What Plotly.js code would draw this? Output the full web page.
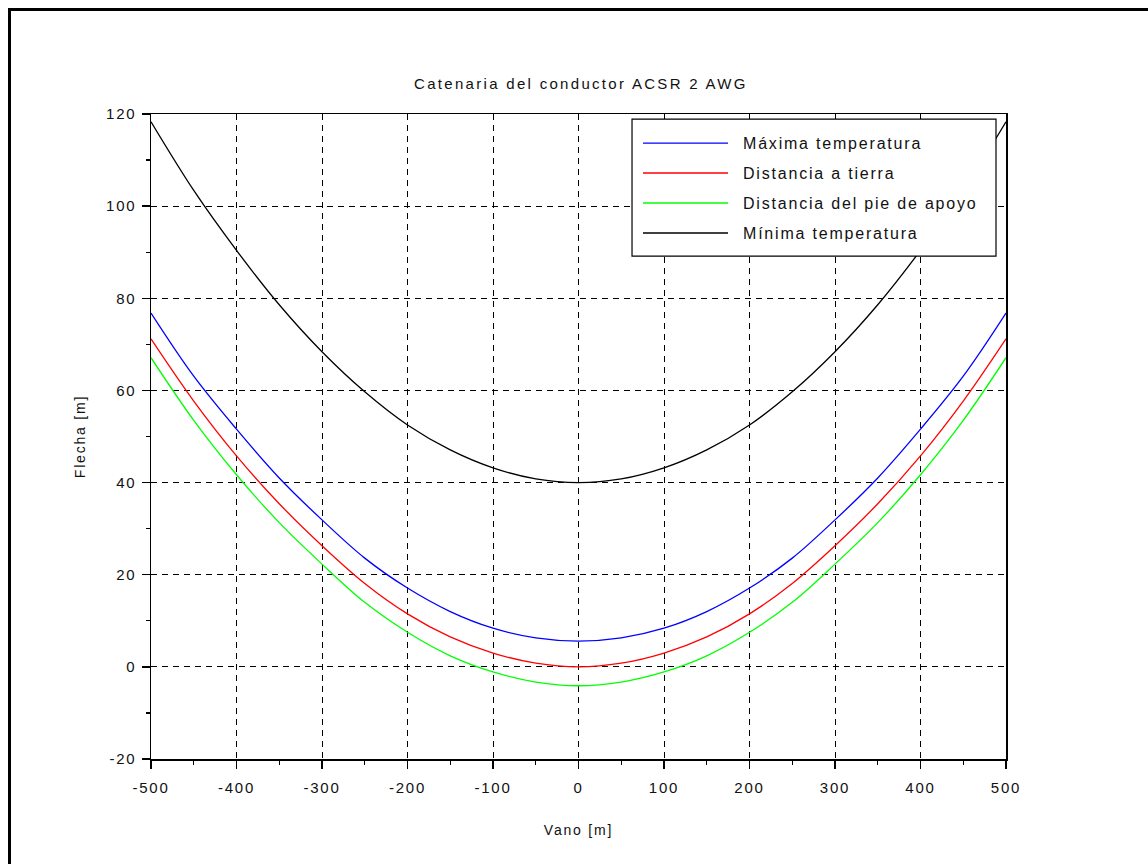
<!DOCTYPE html>
<html>
<head>
<meta charset="utf-8">
<script src="https://cdn.plot.ly/plotly-3.0.1.min.js"></script>
<style>
  html, body { margin: 0; padding: 0; background: #fff; overflow: hidden; }
  #chart { width: 1148px; height: 864px; }
  #frame { position: absolute; left: 8px; top: 8px; width: 2000px; height: 2000px;
           border-left: 3px solid #000; border-top: 3px solid #000; pointer-events: none; }
  .main-svg text { letter-spacing: 1.8px; }
  .main-svg .gtitle { letter-spacing: 2.3px; }
</style>
</head>
<body>
<div id="chart"></div>
<div id="frame"></div>
<script>
// Vano [m]
const vano = [-500, -450, -400, -350, -300, -250, -200, -150, -100, -50, 0,
              50, 100, 150, 200, 250, 300, 350, 400, 450, 500];
// Flecha [m] per curve
const maximaTemperatura = [76.8, 63.1, 51.6, 41.0, 31.9, 23.6, 17.1, 12.0, 8.4, 6.3, 5.6,
                           6.3, 8.4, 12.0, 17.1, 23.6, 31.9, 41.0, 51.6, 63.1, 76.8];
const distanciaATierra = [71.2, 57.7, 45.8, 35.4, 26.3, 18.1, 11.5, 6.5, 3.0, 0.8, 0.0,
                          0.8, 3.0, 6.5, 11.5, 18.1, 26.3, 35.4, 45.8, 57.7, 71.2];
const distanciaPieApoyo = [67.1, 53.5, 41.7, 31.3, 22.3, 14.0, 7.5, 2.4, -1.1, -3.3, -4.1,
                           -3.3, -1.1, 2.4, 7.5, 14.0, 22.3, 31.3, 41.7, 53.5, 67.1];
const minimaTemperatura = [118.3, 103.4, 90.4, 78.6, 68.4, 59.7, 52.5, 47.1, 43.2, 40.8, 40.0,
                           40.8, 43.2, 47.1, 52.5, 59.7, 68.4, 78.6, 90.4, 103.4, 118.3];

const names = ["Máxima temperatura", "Distancia a tierra", "Distancia del pie de apoyo", "Mínima temperatura"];
const colors = ["#0000ff", "#ff0000", "#00ff00", "#000000"];
const series = [maximaTemperatura, distanciaATierra, distanciaPieApoyo, minimaTemperatura];

const xTicks = [-500, -400, -300, -200, -100, 0, 100, 200, 300, 400, 500];
const yTicks = [-20, 0, 20, 40, 60, 80, 100, 120];

const FONT = "Liberation Sans, Arial, sans-serif";

const traces = series.map((ys, i) => ({
  type: "scatter", mode: "lines", x: vano, y: ys, name: names[i],
  showlegend: false,
  line: { color: colors[i], width: 1.3, shape: "spline", smoothing: 1 }
}));

// Legend box drawn in paper coordinates (styling, not data)
const LEG = { x0: 0.5626, x1: 0.9883, y0: 0.7798, y1: 0.9922,
              lx0: 0.5754, lx1: 0.6749, tx: 0.6900, rows: [0.9550, 0.9085, 0.8620, 0.8155] };
const shapes = [{
  type: "rect", xref: "paper", yref: "paper", x0: LEG.x0, x1: LEG.x1, y0: LEG.y0, y1: LEG.y1,
  fillcolor: "#fff", line: { color: "#000", width: 1.2 }, layer: "above"
}];
const annotations = [];
names.forEach((n, i) => {
  shapes.push({ type: "line", xref: "paper", yref: "paper", x0: LEG.lx0, x1: LEG.lx1,
                y0: LEG.rows[i], y1: LEG.rows[i], line: { color: colors[i], width: 1.3 }, layer: "above" });
  annotations.push({ xref: "paper", yref: "paper", x: LEG.tx, y: LEG.rows[i], text: n,
                     showarrow: false, xanchor: "left", yanchor: "middle",
                     width: 250, align: "left",
                     font: { family: FONT, size: 16, color: "#111" } });
});

const axisCommon = {
  showline: true, linecolor: "#000", linewidth: 1.5, mirror: true,
  ticks: "outside", ticklen: 8, tickwidth: 1.3, tickcolor: "#000",
  showgrid: true, gridcolor: "#000", gridwidth: 1, griddash: "6px,5px",
  zeroline: false, tickfont: { family: FONT, size: 15, color: "#111" },
  fixedrange: true
};

const layout = {
  width: 1148, height: 864,
  margin: { l: 151, r: 142, t: 114, b: 105, pad: 0 },
  paper_bgcolor: "#fff", plot_bgcolor: "#fff",
  showlegend: false,
  shapes: shapes, annotations: annotations,
  title: { text: "Catenaria del conductor ACSR 2 AWG", x: 0.506, xanchor: "center",
           y: 0.903, yanchor: "middle", font: { family: FONT, size: 15, color: "#111" } },
  xaxis: Object.assign({}, axisCommon, {
    range: [-500, 500], tickvals: xTicks, ticktext: xTicks.map(String),
    ticklabelstandoff: 6,
    minor: { dtick: 50, tick0: 0, ticks: "outside", ticklen: 4, tickcolor: "#000", showgrid: false },
    title: { text: "Vano [m]", standoff: 30, font: { family: FONT, size: 14, color: "#111" } }
  }),
  yaxis: Object.assign({}, axisCommon, {
    range: [-20, 120], tickvals: yTicks, ticktext: yTicks.map(String),
    ticklabelstandoff: 2,
    minor: { dtick: 10, tick0: 0, ticks: "outside", ticklen: 4, tickcolor: "#000", showgrid: false },
    title: { text: "Flecha [m]", standoff: 22, font: { family: FONT, size: 14, color: "#111" } }
  })
};

Plotly.newPlot("chart", traces, layout, { displayModeBar: false, staticPlot: true });
</script>
</body>
</html>
